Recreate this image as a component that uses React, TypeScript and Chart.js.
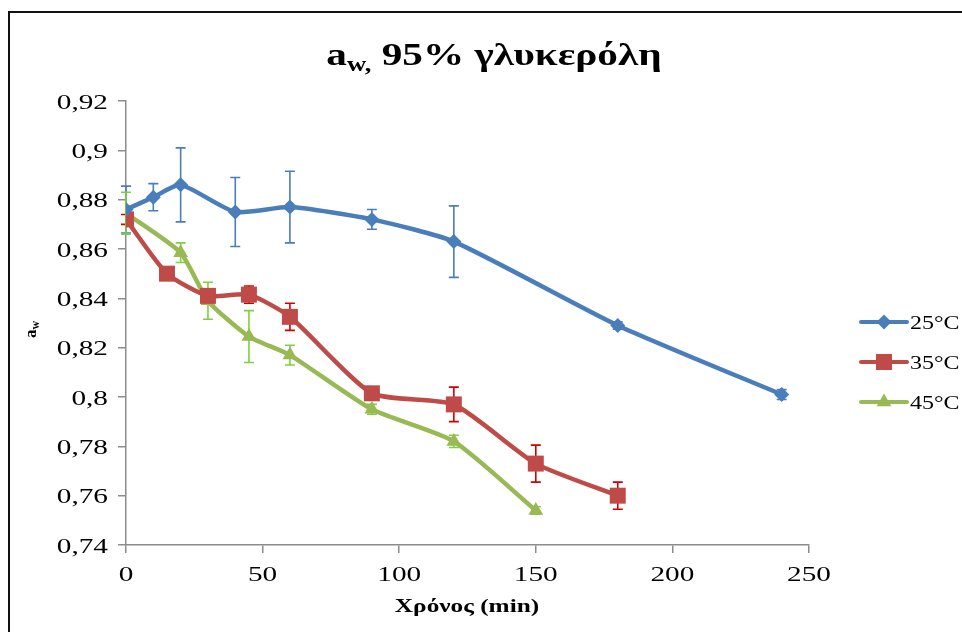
import React, { useEffect, useRef } from "react";
import { Chart, registerables } from "chart.js";

Chart.register(...registerables);

// Sampling times (min) and water activity per storage temperature
const time25 = [0, 10, 20, 40, 60, 90, 120, 180, 240];
const aw25 = [0.876, 0.881, 0.886, 0.875, 0.877, 0.872, 0.863, 0.829, 0.801];
const err25 = [0.0095, 0.0055, 0.015, 0.014, 0.0145, 0.004, 0.0145, 0.0015, 0.002];

const time35 = [0, 15, 30, 45, 60, 90, 120, 150, 180];
const aw35 = [0.872, 0.85, 0.841, 0.8415, 0.8325, 0.8015, 0.797, 0.773, 0.76];
const err35 = [0.002, 0.001, 0.002, 0.0035, 0.0055, 0.002, 0.007, 0.0075, 0.0055];

const time45 = [0, 20, 30, 45, 60, 90, 120, 150];
const aw45 = [0.8745, 0.8585, 0.839, 0.8245, 0.817, 0.795, 0.782, 0.754];
const err45 = [0.0085, 0.004, 0.0075, 0.0105, 0.004, 0.002, 0.0025, 0.0015];

const seriesLabels = ["25°C", "35°C", "45°C"];
const xTicks = { min: 0, max: 250, step: 50 };
const yTicks = { min: 0.74, max: 0.92, step: 0.02 };

const BLUE = "#4A7EBB";
const RED = "#BE4B48";
const GREEN = "#98B954";
const ERR_COLORS = ["#4A7EBB", "#D00000", "#7ED040"];

const SERIF = '"Liberation Serif", "Times New Roman", serif';
const WIDE = 1.33; // horizontal text widening

const fmt = (v: number) => String(Number(v.toFixed(2))).replace(".", ",");

function wideText(
  ctx: CanvasRenderingContext2D,
  text: string,
  x: number,
  y: number,
  font: string,
  align: CanvasTextAlign,
  color = "#000"
) {
  ctx.save();
  ctx.font = font;
  ctx.fillStyle = color;
  ctx.textAlign = align;
  ctx.textBaseline = "alphabetic";
  ctx.translate(x, y);
  ctx.scale(WIDE, 1);
  ctx.fillText(text, 0, 0);
  ctx.restore();
}

function drawMarker(ctx: CanvasRenderingContext2D, style: string, x: number, y: number, color: string) {
  ctx.save();
  ctx.fillStyle = color;
  ctx.beginPath();
  if (style === "rectRot") {
    const r = 7.5;
    ctx.moveTo(x, y - r);
    ctx.lineTo(x + r, y);
    ctx.lineTo(x, y + r);
    ctx.lineTo(x - r, y);
  } else if (style === "rect") {
    ctx.rect(x - 8, y - 8, 16, 16);
  } else {
    const r = 8.5;
    ctx.moveTo(x, y - r);
    ctx.lineTo(x + r * 0.866, y + r * 0.5);
    ctx.lineTo(x - r * 0.866, y + r * 0.5);
  }
  ctx.closePath();
  ctx.fill();
  ctx.restore();
}

const errorSets = [err25, err35, err45];

const decorPlugin = {
  id: "decor",
  beforeDatasetsDraw(chart: any) {
    const ctx: CanvasRenderingContext2D = chart.ctx;
    const xs = chart.scales.x;
    const ys = chart.scales.y;
    chart.data.datasets.forEach((ds: any, i: number) => {
      const errs = errorSets[i];
      ctx.save();
      ctx.strokeStyle = ERR_COLORS[i];
      ctx.lineWidth = 1.6;
      ds.data.forEach((p: any, j: number) => {
        const e = errs[j];
        const px = xs.getPixelForValue(p.x);
        const top = ys.getPixelForValue(p.y + e);
        const bot = ys.getPixelForValue(p.y - e);
        ctx.beginPath();
        ctx.moveTo(px, top);
        ctx.lineTo(px, bot);
        ctx.moveTo(px - 5, top);
        ctx.lineTo(px + 5, top);
        ctx.moveTo(px - 5, bot);
        ctx.lineTo(px + 5, bot);
        ctx.stroke();
      });
      ctx.restore();
    });
  },
  afterDraw(chart: any) {
    const ctx: CanvasRenderingContext2D = chart.ctx;
    const xs = chart.scales.x;
    const ys = chart.scales.y;

    // outer frame
    ctx.save();
    ctx.strokeStyle = "#111";
    ctx.lineWidth = 2;
    ctx.strokeRect(9, 12, chart.width + 20, chart.height + 20);
    ctx.restore();

    // tick labels
    ys.ticks.forEach((t: any) => {
      const py = ys.getPixelForValue(t.value);
      wideText(ctx, fmt(t.value), 108, py + 7.5, `22px ${SERIF}`, "right");
    });
    xs.ticks.forEach((t: any) => {
      const px = xs.getPixelForValue(t.value);
      wideText(ctx, fmt(t.value), px, 581, `22px ${SERIF}`, "center");
    });

    // chart title with subscript
    const parts = [
      { t: "a", size: 31, dy: 0 },
      { t: "w,", size: 20, dy: 6 },
      { t: " 95% γλυκερόλη", size: 31, dy: 0 },
    ];
    ctx.save();
    let total = 0;
    const widths = parts.map((p) => {
      ctx.font = `bold ${p.size}px ${SERIF}`;
      const w = ctx.measureText(p.t).width * WIDE;
      total += w;
      return w;
    });
    ctx.restore();
    let tx = 494 - total / 2;
    parts.forEach((p, i) => {
      wideText(ctx, p.t, tx, 65 + p.dy, `bold ${p.size}px ${SERIF}`, "left");
      tx += widths[i];
    });

    // x axis title
    wideText(ctx, "Χρόνος (min)", 467, 612, `bold 19px ${SERIF}`, "center");

    // y axis title (rotated, with subscript)
    ctx.save();
    ctx.translate(36, 338);
    ctx.rotate(-Math.PI / 2);
    ctx.fillStyle = "#000";
    ctx.textBaseline = "alphabetic";
    ctx.textAlign = "left";
    ctx.font = `bold 17px ${SERIF}`;
    ctx.fillText("a", 0, 0);
    const aw = ctx.measureText("a").width;
    ctx.font = `bold 12px ${SERIF}`;
    ctx.fillText("w", aw, 3);
    ctx.restore();

    // legend
    const styles = ["rectRot", "rect", "triangle"];
    const colors = [BLUE, RED, GREEN];
    const rows = [322, 362, 402];
    seriesLabels.forEach((lab, i) => {
      const y = rows[i];
      ctx.save();
      ctx.strokeStyle = colors[i];
      ctx.lineWidth = 4;
      ctx.lineCap = "round";
      ctx.beginPath();
      ctx.moveTo(861, y);
      ctx.lineTo(907, y);
      ctx.stroke();
      ctx.restore();
      drawMarker(ctx, styles[i], 884, y, colors[i]);
      wideText(ctx, lab, 910, y + 6.5, `18px ${SERIF}`, "left");
    });
  },
};

export default function App() {
  const ref = useRef<HTMLCanvasElement | null>(null);

  useEffect(() => {
    if (!ref.current) return;
    const mk = (xs: number[], ys: number[]) => xs.map((x, i) => ({ x, y: ys[i] }));
    const common = {
      borderWidth: 4.5,
      tension: 0.2,
      pointBorderWidth: 0,
      fill: false,
    };
    const chart = new Chart(ref.current, {
      type: "line",
      data: {
        datasets: [
          {
            ...common,
            label: seriesLabels[0],
            data: mk(time25, aw25),
            borderColor: BLUE,
            backgroundColor: BLUE,
            pointStyle: "rectRot",
            pointRadius: 7.5,
          },
          {
            ...common,
            label: seriesLabels[1],
            data: mk(time35, aw35),
            borderColor: RED,
            backgroundColor: RED,
            pointStyle: "rect",
            pointRadius: 11.3,
          },
          {
            ...common,
            label: seriesLabels[2],
            data: mk(time45, aw45),
            borderColor: GREEN,
            backgroundColor: GREEN,
            pointStyle: "triangle",
            pointRadius: 8.5,
          },
        ],
      },
      options: {
        responsive: false,
        animation: false,
        devicePixelRatio: 1,
        layout: { padding: { left: 0, top: 101, right: 153, bottom: 0 } },
        plugins: {
          legend: { display: false },
          title: { display: false },
          tooltip: { enabled: false },
        },
        scales: {
          x: {
            type: "linear",
            min: xTicks.min,
            max: xTicks.max,
            ticks: { stepSize: xTicks.step, color: "rgba(0,0,0,0)", font: { size: 22 } },
            grid: { drawOnChartArea: false, drawTicks: true, tickLength: 8, color: "#8C8C8C", lineWidth: 1.5 },
            border: { display: true, color: "#8C8C8C", width: 1.5 },
            afterFit: (s: any) => {
              s.height = 87;
            },
          },
          y: {
            type: "linear",
            min: yTicks.min,
            max: yTicks.max,
            ticks: { stepSize: yTicks.step, color: "rgba(0,0,0,0)", font: { size: 22 } },
            grid: { drawOnChartArea: false, drawTicks: true, tickLength: 8, color: "#8C8C8C", lineWidth: 1.5 },
            border: { display: true, color: "#8C8C8C", width: 1.5 },
            afterFit: (s: any) => {
              s.width = 126;
            },
          },
        },
      },
      plugins: [decorPlugin],
    });
    return () => chart.destroy();
  }, []);

  return (
    <div style={{ position: "fixed", left: 0, top: 0, width: 962, height: 632, background: "#fff" }}>
      <canvas ref={ref} width={962} height={632} style={{ display: "block" }} />
    </div>
  );
}
